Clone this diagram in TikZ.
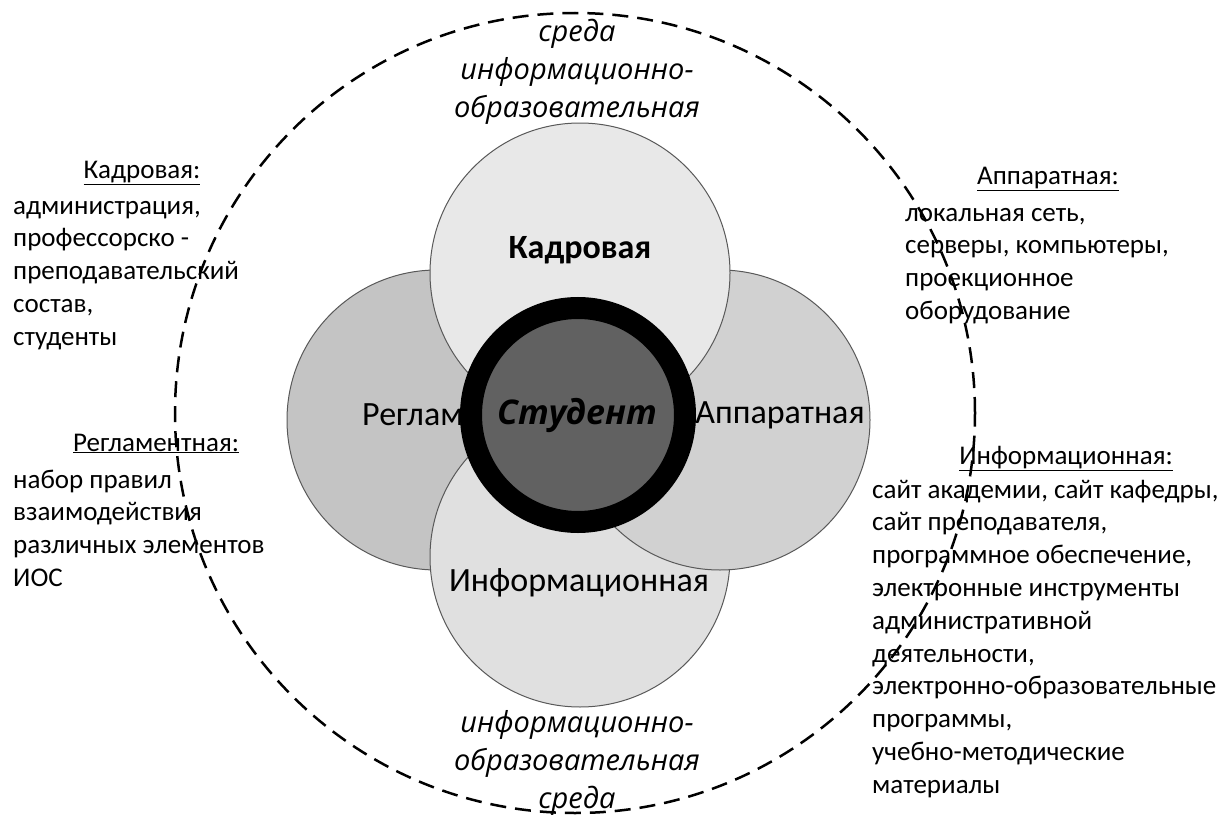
\documentclass[tikz,border=0pt]{standalone}
\usepackage{fontspec}
\setmainfont{Carlito}
\newfontfamily\envfont{Open Sans}
\usetikzlibrary{positioning}

\begin{document}
\begin{tikzpicture} [x = 1pt, y = -1pt,
petal/.style = {circle, draw = black!65, line width = 1pt, minimum size = 300pt, inner sep = 0pt},
petal text/.style = {font = \fontsize{34}{40}\selectfont, inner sep = 0pt},
head/.style = {font = \fontsize{27}{33}\selectfont, inner sep = 0pt, anchor = base},
body/.style = {font = \fontsize{27}{32.8}\selectfont, align = left, anchor = north west, inner sep = 0pt},
env/.style = {font = \envfont\itshape\fontsize{29}{38}\selectfont, align = center, anchor = north, inner sep = 0pt}]

\useasboundingbox (0,0) rectangle (1227,816);

\node (lhead1) [head] at (142,178) {\underline{Кадровая:}};
\node (lbody1) [body] at (13,191) {\strut администрация,\\профессорско -\\преподавательский\\состав,\\студенты};
\node (lhead2) [head] at (156,451) {\underline{Регламентная:}};
\node (lbody2) [body] at (13,465) {\strut набор правил\\взаимодействия\\различных элементов\\ИОС};
\node (rhead1) [head] at (1048,184) {\underline{Аппаратная:}};
\node (rbody1) [body] at (905,198) {\strut локальная сеть,\\серверы, компьютеры,\\проекционное\\оборудование};
\node (rhead2) [head] at (1066,464) {\underline{Информационная:}};
\node (rbody2) [body] at (872,475) {\strut сайт академии, сайт кафедры,\\сайт преподавателя,\\программное обеспечение,\\электронные инструменты\\административной\\деятельности,\\электронно-образовательные\\программы,\\учебно-методические\\материалы};

\node (env) [circle, draw, dashed, line width = 2.5pt, dash pattern = on 16pt off 9pt, minimum size = 800pt, inner sep = 0pt] at (575,413) {};

\node (reg) [petal, fill = black!23] at (437,420) {};
\begin{scope}
\clip (280,380) rectangle (461,460);
\node (regtext) [petal text, anchor = base west] at (362,425) {Регламентная};
\end{scope}
\node (inf) [petal, fill = black!12] at (580,557) {};
\node (inftext) [petal text, anchor = base] at (579,591) {Информационная};
\node (app) [petal, fill = black!18] at (720,420) {};
\node (apptext) [petal text, anchor = base] at (780,423) {Аппаратная};
\node (kadr) [petal, fill = black!9] at (580,273) {};
\node (kadrtext) [petal text, anchor = base, font = \fontsize{34}{40}\selectfont\bfseries] at (580,258) {Кадровая};

\node (stud) [circle, draw = black, line width = 22pt, fill = black!62, minimum size = 214pt, inner sep = 0pt] at (578,415) {};
\node (studtext) [anchor = base, inner sep = 0pt, font = \envfont\bfseries\itshape\fontsize{34}{40}\selectfont] at (577,424) {Студент};

\node (envtop) [env] at (577,15) {\strut среда\\информационно-\\образовательная};
\node (envbot) [env] at (577,706) {\strut информационно-\\образовательная\\среда};
\end{tikzpicture}
\end{document}
